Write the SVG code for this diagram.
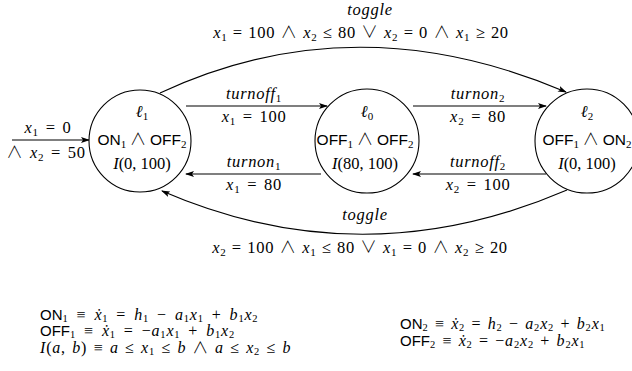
<svg xmlns="http://www.w3.org/2000/svg" width="632" height="371" viewBox="0 0 632 371">
<style>
.m{font-family:"Liberation Serif","DejaVu Serif",serif;font-size:16.5px;fill:#000}
.i{font-style:italic}
.s{font-size:11px}
.sf{font-family:"Liberation Sans","DejaVu Sans",sans-serif;font-size:15.5px}
.op{font-family:"Noto Sans CJK SC","DejaVu Sans",sans-serif;font-weight:300}
.c{text-anchor:middle}
.lab{letter-spacing:0.7px;word-spacing:2px}
.f{word-spacing:0.6px}
.eq{font-size:16px;letter-spacing:0.8px;word-spacing:3.2px}
.eq .s{font-size:10.5px}
.eq .sf{font-size:15px;letter-spacing:0}
.eqi{word-spacing:1.6px}
.eqr{word-spacing:1.6px}
.node{fill:#fff;stroke:#000;stroke-width:1.1}
.edge{fill:none;stroke:#000;stroke-width:1.1;marker-end:url(#ah)}
</style>
<defs>
<marker id="ah" markerWidth="9" markerHeight="6" refX="8" refY="3" orient="auto" markerUnits="userSpaceOnUse">
<path d="M0,0 L9,3 L0,6 L2,3 z" fill="#000"/>
</marker>
</defs>
<g id="connectors">
<path class="edge" d="M12,140 L89,140"/>
<path class="edge" d="M186,106 L327,106"/>
<path class="edge" d="M321,174 L186,174"/>
<path class="edge" d="M413,106 L546,106"/>
<path class="edge" d="M546,174 L413,174"/>
<path class="edge" d="M160,93 Q355,2 566,92"/>
<path class="edge" d="M567,190 Q363,278 162,191"/>
</g>
<g id="edge-labels">
<text class="m c lab" x="48" y="133"><tspan class="i">x</tspan><tspan class="s" dy="3">1</tspan><tspan dy="-3"> = 0</tspan></text>
<text class="m c lab" x="46" y="158"><tspan class="op">∧ </tspan><tspan class="i">x</tspan><tspan class="s" dy="3">2</tspan><tspan dy="-3"> = 50</tspan></text>
<text class="m c lab" x="254" y="99"><tspan class="i">turnoff</tspan><tspan class="s" dy="3">1</tspan></text>
<text class="m c lab" x="254" y="122"><tspan class="i">x</tspan><tspan class="s" dy="3">1</tspan><tspan dy="-3"> = 100</tspan></text>
<text class="m c lab" x="254" y="167"><tspan class="i">turnon</tspan><tspan class="s" dy="3">1</tspan></text>
<text class="m c lab" x="254" y="190"><tspan class="i">x</tspan><tspan class="s" dy="3">1</tspan><tspan dy="-3"> = 80</tspan></text>
<text class="m c lab" x="478" y="99"><tspan class="i">turnon</tspan><tspan class="s" dy="3">2</tspan></text>
<text class="m c lab" x="478" y="122"><tspan class="i">x</tspan><tspan class="s" dy="3">2</tspan><tspan dy="-3"> = 80</tspan></text>
<text class="m c lab" x="478" y="167"><tspan class="i">turnoff</tspan><tspan class="s" dy="3">2</tspan></text>
<text class="m c lab" x="478" y="190"><tspan class="i">x</tspan><tspan class="s" dy="3">2</tspan><tspan dy="-3"> = 100</tspan></text>
<text class="m c i lab" x="370" y="15">toggle</text>
<text class="m c lab f" x="361" y="38"><tspan class="i">x</tspan><tspan class="s" dy="3">1</tspan><tspan dy="-3"> = 100 </tspan><tspan class="op">∧</tspan><tspan class="i"> x</tspan><tspan class="s" dy="3">2</tspan><tspan dy="-3"> ≤ 80  </tspan><tspan class="op">∨</tspan><tspan>  </tspan><tspan class="i">x</tspan><tspan class="s" dy="3">2</tspan><tspan dy="-3"> = 0 </tspan><tspan class="op">∧</tspan><tspan class="i"> x</tspan><tspan class="s" dy="3">1</tspan><tspan dy="-3"> ≥ 20</tspan></text>
<text class="m c i lab" x="365" y="220">toggle</text>
<text class="m c lab f" x="360" y="253"><tspan class="i">x</tspan><tspan class="s" dy="3">2</tspan><tspan dy="-3"> = 100 </tspan><tspan class="op">∧</tspan><tspan class="i"> x</tspan><tspan class="s" dy="3">1</tspan><tspan dy="-3"> ≤ 80  </tspan><tspan class="op">∨</tspan><tspan>  </tspan><tspan class="i">x</tspan><tspan class="s" dy="3">1</tspan><tspan dy="-3"> = 0 </tspan><tspan class="op">∧</tspan><tspan class="i"> x</tspan><tspan class="s" dy="3">2</tspan><tspan dy="-3"> ≥ 20</tspan></text>
</g>
<g id="node-l1">
<circle class="node" cx="140" cy="141" r="51"/>
<text class="m c" x="142" y="117"><tspan class="i">ℓ</tspan><tspan class="s" dy="3">1</tspan></text>
<text class="m c" x="142" y="145"><tspan class="sf">ON</tspan><tspan class="s" dy="3">1</tspan><tspan class="op" dy="-3"> ∧ </tspan><tspan class="sf">OFF</tspan><tspan class="s" dy="3">2</tspan></text>
<text class="m c" x="142" y="169"><tspan class="i">I</tspan>(0, 100)</text>
</g>
<g id="node-l0">
<circle class="node" cx="367" cy="141" r="52"/>
<text class="m c" x="367" y="117"><tspan class="i">ℓ</tspan><tspan class="s" dy="3">0</tspan></text>
<text class="m c" x="365" y="145"><tspan class="sf">OFF</tspan><tspan class="s" dy="3">1</tspan><tspan class="op" dy="-3"> ∧ </tspan><tspan class="sf">OFF</tspan><tspan class="s" dy="3">2</tspan></text>
<text class="m c" x="365" y="169"><tspan class="i">I</tspan>(80, 100)</text>
</g>
<g id="node-l2">
<circle class="node" cx="587" cy="141" r="52"/>
<text class="m c" x="587" y="117"><tspan class="i">ℓ</tspan><tspan class="s" dy="3">2</tspan></text>
<text class="m c" x="587" y="145"><tspan class="sf">OFF</tspan><tspan class="s" dy="3">1</tspan><tspan class="op" dy="-3"> ∧ </tspan><tspan class="sf">ON</tspan><tspan class="s" dy="3">2</tspan></text>
<text class="m c" x="587" y="169"><tspan class="i">I</tspan>(0, 100)</text>
</g>
<g id="equations">
<text class="m eq" x="40" y="320"><tspan class="sf">ON</tspan><tspan class="s" dy="2">1</tspan><tspan dy="-2"> ≡ </tspan><tspan class="i">ẋ</tspan><tspan class="s" dy="2">1</tspan><tspan dy="-2"> = </tspan><tspan class="i">h</tspan><tspan class="s" dy="2">1</tspan><tspan dy="-2"> − </tspan><tspan class="i">a</tspan><tspan class="s" dy="2">1</tspan><tspan dy="-2" class="i">x</tspan><tspan class="s" dy="2">1</tspan><tspan dy="-2"> + </tspan><tspan class="i">b</tspan><tspan class="s" dy="2">1</tspan><tspan dy="-2" class="i">x</tspan><tspan class="s" dy="2">2</tspan></text>
<text class="m eq" x="40" y="336"><tspan class="sf">OFF</tspan><tspan class="s" dy="2">1</tspan><tspan dy="-2"> ≡ </tspan><tspan class="i">ẋ</tspan><tspan class="s" dy="2">1</tspan><tspan dy="-2"> = −</tspan><tspan class="i">a</tspan><tspan class="s" dy="2">1</tspan><tspan dy="-2" class="i">x</tspan><tspan class="s" dy="2">1</tspan><tspan dy="-2"> + </tspan><tspan class="i">b</tspan><tspan class="s" dy="2">1</tspan><tspan dy="-2" class="i">x</tspan><tspan class="s" dy="2">2</tspan></text>
<text class="m eq eqi" x="40" y="353"><tspan class="i">I</tspan>(<tspan class="i">a</tspan>, <tspan class="i">b</tspan>) ≡ <tspan class="i">a</tspan> ≤ <tspan class="i">x</tspan><tspan class="s" dy="2">1</tspan><tspan dy="-2"> ≤ </tspan><tspan class="i">b</tspan><tspan class="op"> ∧ </tspan><tspan class="i">a</tspan> ≤ <tspan class="i">x</tspan><tspan class="s" dy="2">2</tspan><tspan dy="-2"> ≤ </tspan><tspan class="i">b</tspan></text>
<text class="m eq eqr" x="400" y="329"><tspan class="sf">ON</tspan><tspan class="s" dy="2">2</tspan><tspan dy="-2"> ≡ </tspan><tspan class="i">ẋ</tspan><tspan class="s" dy="2">2</tspan><tspan dy="-2"> = </tspan><tspan class="i">h</tspan><tspan class="s" dy="2">2</tspan><tspan dy="-2"> − </tspan><tspan class="i">a</tspan><tspan class="s" dy="2">2</tspan><tspan dy="-2" class="i">x</tspan><tspan class="s" dy="2">2</tspan><tspan dy="-2"> + </tspan><tspan class="i">b</tspan><tspan class="s" dy="2">2</tspan><tspan dy="-2" class="i">x</tspan><tspan class="s" dy="2">1</tspan></text>
<text class="m eq eqr" x="400" y="346"><tspan class="sf">OFF</tspan><tspan class="s" dy="2">2</tspan><tspan dy="-2"> ≡ </tspan><tspan class="i">ẋ</tspan><tspan class="s" dy="2">2</tspan><tspan dy="-2"> = −</tspan><tspan class="i">a</tspan><tspan class="s" dy="2">2</tspan><tspan dy="-2" class="i">x</tspan><tspan class="s" dy="2">2</tspan><tspan dy="-2"> + </tspan><tspan class="i">b</tspan><tspan class="s" dy="2">2</tspan><tspan dy="-2" class="i">x</tspan><tspan class="s" dy="2">1</tspan></text>
</g>
</svg>
